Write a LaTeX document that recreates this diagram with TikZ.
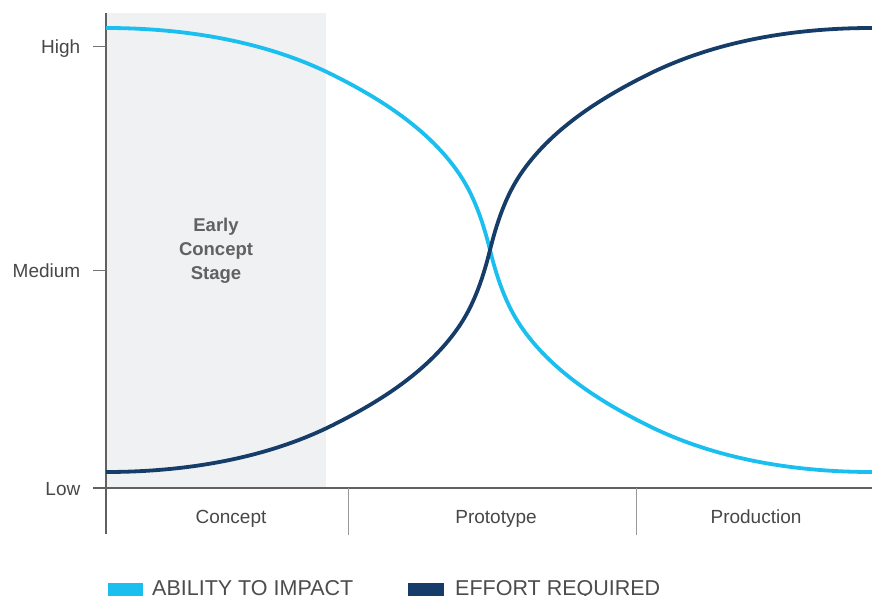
\documentclass[tikz,border=0pt]{standalone}
\usepackage{fontspec}
\setmainfont{Liberation Sans}
\begin{document}
\begin{tikzpicture}[x=1pt,y=-1pt,
  lbl/.style={text=black!72, font=\fontsize{19}{21}\selectfont, inner sep=0pt, anchor=base},
  ylbl/.style={text=black!72, font=\fontsize{19}{21}\selectfont, inner sep=0pt, anchor=base east},
  stagetxt/.style={text=black!62, font=\bfseries\fontsize{18.5}{24}\selectfont, inner sep=0pt, anchor=base},
  axisline/.style={draw=black!62, line width=1.4pt},
  tickline/.style={draw=black!55, line width=1pt},
  sepline/.style={draw=black!40, line width=1pt},
  impact/.style={draw=impactc, line width=3.8pt},
  effort/.style={draw=effortc, line width=3.8pt},
  legtxt/.style={text=black!70, font=\fontsize{21.5}{23}\selectfont, inner sep=0pt, anchor=base west}]
\definecolor{impactc}{HTML}{1BBFEF}
\definecolor{effortc}{HTML}{163D69}
\definecolor{regionfill}{HTML}{F0F1F3}
\useasboundingbox (0,0) rectangle (872,596);
% shaded region
\fill[regionfill] (106,13) rectangle (326,488);
\node[stagetxt] (st1) at (216,231.7) {Early};
\node[stagetxt] (st2) at (216,255.7) {Concept};
\node[stagetxt] (st3) at (216,279.7) {Stage};
% axes
\coordinate (ytop) at (106,13);
\coordinate (ybot) at (106,534);
\coordinate (xl) at (93,488);
\coordinate (xr) at (872,488);
\draw[axisline] (ytop) -- (ybot);
\draw[axisline] (xl) -- (xr);
% ticks
\coordinate (th0) at (93,47); \coordinate (th1) at (106,47);
\coordinate (tm0) at (93,270); \coordinate (tm1) at (106,270);
\draw[tickline] (th0) -- (th1);
\draw[tickline] (tm0) -- (tm1);
\node[ylbl] (high) at (80.5,54) {High};
\node[ylbl] (med) at (80.5,277) {Medium};
\node[ylbl] (low) at (80.5,495) {Low};
% separators
\coordinate (s1a) at (348,488); \coordinate (s1b) at (348,535);
\coordinate (s2a) at (636,488); \coordinate (s2b) at (636,535);
\draw[sepline] (s1a) -- (s1b);
\draw[sepline] (s2a) -- (s2b);
\node[lbl] (concept) at (231,523.5) {Concept};
\node[lbl] (proto) at (496,523.5) {Prototype};
\node[lbl] (prod) at (756,523.5) {Production};
% curves
\coordinate (ia) at (106,28);
\coordinate (cross) at (490,250);
\coordinate (ib) at (872,472);
\coordinate (ea) at (106,472);
\coordinate (eb) at (872,28);
\draw[impact] (ia) .. controls (183,28) and (264.2,40.6) .. (333,75)
  .. controls (381.2,99.1) and (430.1,130.2) .. (460,175)
  .. controls (474.9,197.4) and (483.5,223.9) .. (cross)
  .. controls (496.5,276.1) and (505.1,302.6) .. (520,325)
  .. controls (549.9,369.8) and (598.8,400.9) .. (647,425)
  .. controls (715.8,459.4) and (795,472) .. (ib);
\draw[effort] (ea) .. controls (183,472) and (264.2,459.4) .. (333,425)
  .. controls (381.2,400.9) and (430.1,369.8) .. (460,325)
  .. controls (474.9,302.6) and (483.5,276.1) .. (cross)
  .. controls (496.5,223.9) and (505.1,197.4) .. (520,175)
  .. controls (549.9,130.2) and (598.8,99.1) .. (647,75)
  .. controls (715.8,40.6) and (795,28) .. (eb);
% legend
\fill[impactc] (107.5,582.5) rectangle (142.7,596);
\node[legtxt] (leg1) at (152,595.5) {ABILITY TO IMPACT};
\fill[effortc] (408,582.5) rectangle (444,596);
\node[legtxt] (leg2) at (455,595.5) {EFFORT REQUIRED};
\end{tikzpicture}
\end{document}
